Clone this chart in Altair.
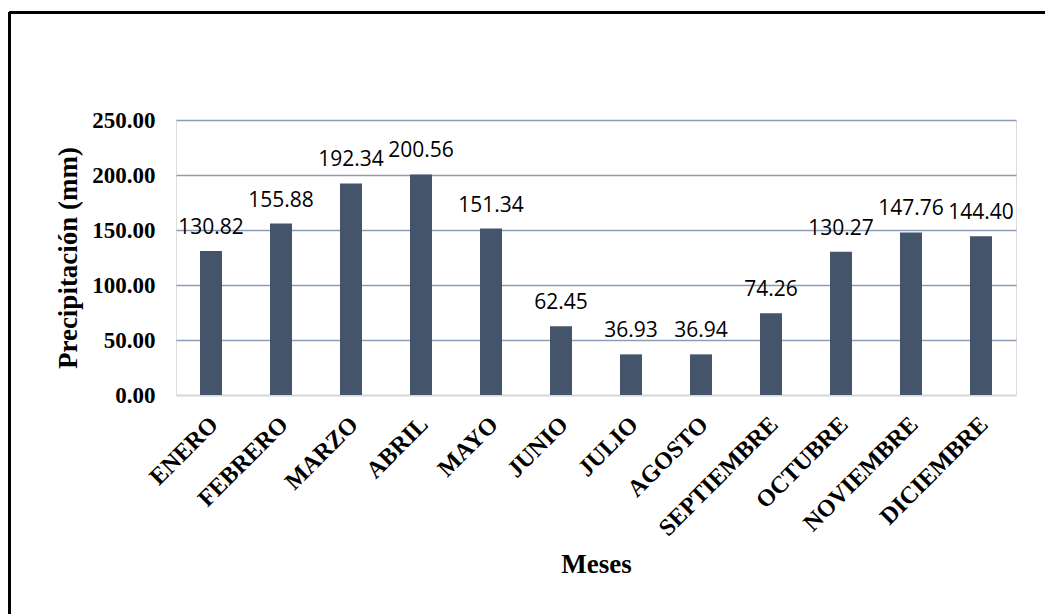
import altair as alt
import pandas as pd

meses = ["ENERO", "FEBRERO", "MARZO", "ABRIL", "MAYO", "JUNIO", "JULIO",
         "AGOSTO", "SEPTIEMBRE", "OCTUBRE", "NOVIEMBRE", "DICIEMBRE"]
precip = [130.82, 155.88, 192.34, 200.56, 151.34, 62.45, 36.93,
          36.94, 74.26, 130.27, 147.76, 144.40]
y_ticks = [0, 50, 100, 150, 200, 250]

df = pd.DataFrame({"mes": meses, "pp": precip})

W, H = 840, 275
PAD_L, PAD_T = 176, 120

x_enc = alt.X("mes:N", sort=meses,
              scale=alt.Scale(paddingInner=0, paddingOuter=0),
              axis=alt.Axis(title="Meses", labelAngle=-45, labelAlign="right",
                            labelBaseline="top", labelPadding=17, labelOffset=-5,
                            labelFont="Liberation Serif", labelFontWeight="bold",
                            labelFontSize=24, labelColor="black",
                            ticks=False, domainColor="#d9d9d9", domainWidth=2,
                            titleFont="Liberation Serif", titleFontWeight="bold",
                            titleFontSize=27, titleColor="black",
                            titleY=177, titleBaseline="alphabetic"))
y_enc = alt.Y("pp:Q", scale=alt.Scale(domain=[0, 250], nice=False),
              axis=alt.Axis(title="Precipitación (mm)", values=y_ticks, format=".2f",
                            labelFont="Liberation Serif", labelFontWeight="bold",
                            labelFontSize=23, labelColor="black", labelPadding=21,
                            ticks=False, domain=False,
                            gridColor=alt.condition("datum.value == 0",
                                                    alt.value("#d9d9d9"),
                                                    alt.value("#8a9cb6")),
                            gridWidth=1.6,
                            titleFont="Liberation Serif", titleFontWeight="bold",
                            titleFontSize=27, titleColor="black",
                            titleX=-108, titleY=H / 2, titleAngle=-90,
                            titleAlign="center", titleBaseline="middle"))

bars = alt.Chart(df).mark_bar(size=22, color="#44546a").encode(x=x_enc, y=y_enc)

labels = alt.Chart(df).mark_text(font="Open Sans", fontSize=21, color="black",
                                 baseline="alphabetic", dy=-17).encode(
    x=alt.X("mes:N", sort=meses), y="pp:Q", text=alt.Text("pp:Q", format=".2f"))

frame_top = alt.Chart(df).mark_rule(color="black", strokeWidth=2.5).encode(
    x=alt.value(9.5 - PAD_L), x2=alt.value(1100 - PAD_L), y=alt.value(12.5 - PAD_T))
frame_left = alt.Chart(df).mark_rule(color="black", strokeWidth=2.5).encode(
    x=alt.value(9.5 - PAD_L), y=alt.value(12.5 - PAD_T), y2=alt.value(700 - PAD_T))

chart = alt.layer(bars, labels, frame_top, frame_left).properties(
    width=W, height=H,
    autosize=alt.AutoSizeParams(type="none"),
    padding={"left": PAD_L, "top": PAD_T, "right": 1045 - PAD_L - W,
             "bottom": 614 - PAD_T - H},
).configure_view(stroke=None).configure(background="white")

chart.save("out.html", embed_options={"renderer": "svg", "actions": False})
